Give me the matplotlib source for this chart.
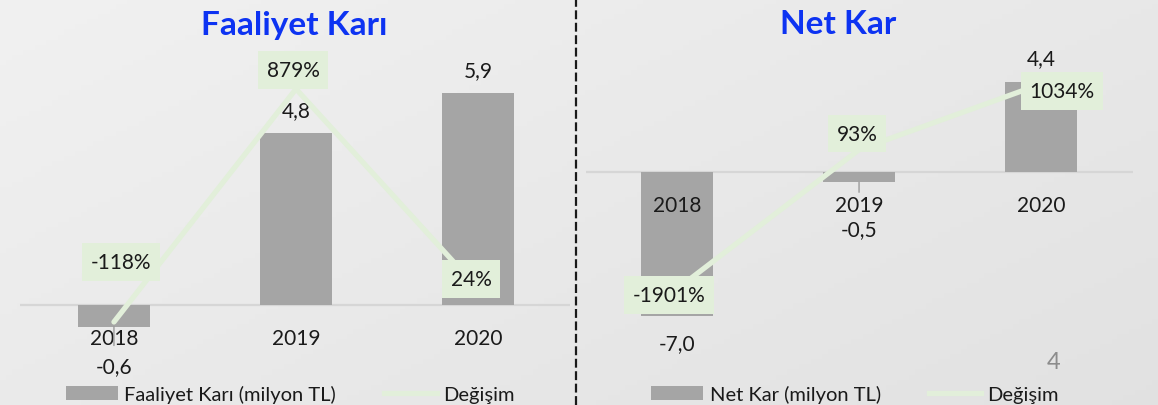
import numpy as np
import matplotlib.pyplot as plt
from matplotlib.patches import Patch
from matplotlib.lines import Line2D

plt.rcParams['font.family'] = ['Lato', 'DejaVu Sans']

# data
years = ['2018', '2019', '2020']
faaliyet_kari = [-0.6, 4.8, 5.9]
faaliyet_degisim = [-118, 879, 24]
net_kar = [-7.0, -0.5, 4.4]
net_degisim = [-1901, 93, 1034]

W, H = 1158, 406
BAR = '#a5a5a5'
GREEN = '#e2efda'
TITLE_BLUE = '#0d33f2'

fig = plt.figure(figsize=(W / 100, H / 100), dpi=100)

# light gray diagonal gradient background (top-left lighter)
bg = fig.add_axes([0, 0, 1, 1], zorder=-10)
gx, gy = np.meshgrid(np.linspace(0, 1, 200), np.linspace(0, 1, 80))
shade = 0.945 - 0.035 * gx - 0.025 * gy
bg.imshow(np.dstack([shade] * 3), aspect='auto', extent=[0, 1, 0, 1], origin='upper')
bg.axis('off')


def px_axes(x0, x1, ytop, ybot):
    return fig.add_axes([x0 / W, (H - ybot) / H, (x1 - x0) / W, (ybot - ytop) / H])


def fmt(v):
    return f'{v:.1f}'.replace('.', ',')


def draw_panel(rect, xlim, values, changes, ylim, y2lim, title, title_x,
               legend_label, legend_x, val_offsets, leaders, pct_offsets):
    ax = px_axes(*rect)
    ax.patch.set_alpha(0)
    x = np.arange(len(years))
    ax.bar(x, values, width=0.4, color=BAR, zorder=2)
    ax.axhline(0, color='#d6d6d6', lw=1.6, zorder=1)
    ax.set_xlim(*xlim)
    ax.set_ylim(*ylim)
    ax.axis('off')

    for i, v in enumerate(values):
        # category label sits just under the zero line
        ax.annotate(years[i], xy=(i, 0), xytext=(0, -33), textcoords='offset pixels',
                    ha='center', va='center', fontsize=15, color='#1a1a1a')
        ax.annotate(fmt(v), xy=(i, v), xytext=(0, val_offsets[i]),
                    textcoords='offset pixels', ha='center', va='center',
                    fontsize=15, color='#1a1a1a')
        if leaders[i]:
            ax.annotate('', xy=(i, v), xytext=(0, -leaders[i]), textcoords='offset pixels',
                        arrowprops=dict(arrowstyle='-', color='#9a9a9a', lw=1,
                                        shrinkA=0, shrinkB=0))

    ax2 = ax.twinx()
    ax2.plot(x, changes, color=GREEN, lw=3.8, solid_capstyle='round',
             solid_joinstyle='round', zorder=2)
    ax2.set_ylim(*y2lim)
    ax2.axis('off')
    for i, c in enumerate(changes):
        ax2.annotate(f'{c}%', xy=(i, c), xytext=pct_offsets[i], textcoords='offset pixels',
                     ha='center', va='center', fontsize=15, color='#1a1a1a',
                     bbox=dict(boxstyle='square,pad=0.42', fc=GREEN, ec='none'), zorder=5)

    fig.text(title_x / W, 1 - 25 / H, title, ha='center', va='center',
             fontsize=24, fontweight='bold', color=TITLE_BLUE)

    handles = [Patch(facecolor=BAR, edgecolor='none'),
               Line2D([], [], color=GREEN, lw=3.8)]
    fig.legend(handles, [legend_label, 'Değişim'], loc='center',
               bbox_to_anchor=(legend_x / W, 11 / H), ncol=2, frameon=False,
               fontsize=14.5, handlelength=2.6, handleheight=0.7, handletextpad=0.3,
               columnspacing=2.4, labelcolor='#1a1a1a')


draw_panel((20, 570, 60, 350), (-0.516, 2.505), faaliyet_kari, faaliyet_degisim,
           (-1.226, 6.85), (-233.6, 1007), 'Faaliyet Karı', 294,
           'Faaliyet Karı (milyon TL)', 290,
           val_offsets=[-40, 23, 23], leaders=[19, 0, 0],
           pct_offsets=[(7, 60), (-3, 19), (-7, 10)])

draw_panel((586, 1133, 60, 350), (-0.5, 2.505), net_kar, net_degisim,
           (-8.63, 5.51), (-2760, 1391.6), 'Net Kar', 838,
           'Net Kar (milyon TL)', 855,
           val_offsets=[-28, -47, 24], leaders=[0, 10, 0],
           pct_offsets=[(-8, -6), (-2, 16), (21, -7)])

# dashed separator between the two panels
fig.add_artist(Line2D([576 / W, 576 / W], [0, 1], color='#1a1a1a', lw=1.6,
                      linestyle=(0, (4, 1.6))))

# page number
fig.text(1054 / W, 1 - 363 / H, '4', ha='center', va='center', fontsize=17, color='#8c8c8c')

fig.savefig('out.png', dpi=100)
